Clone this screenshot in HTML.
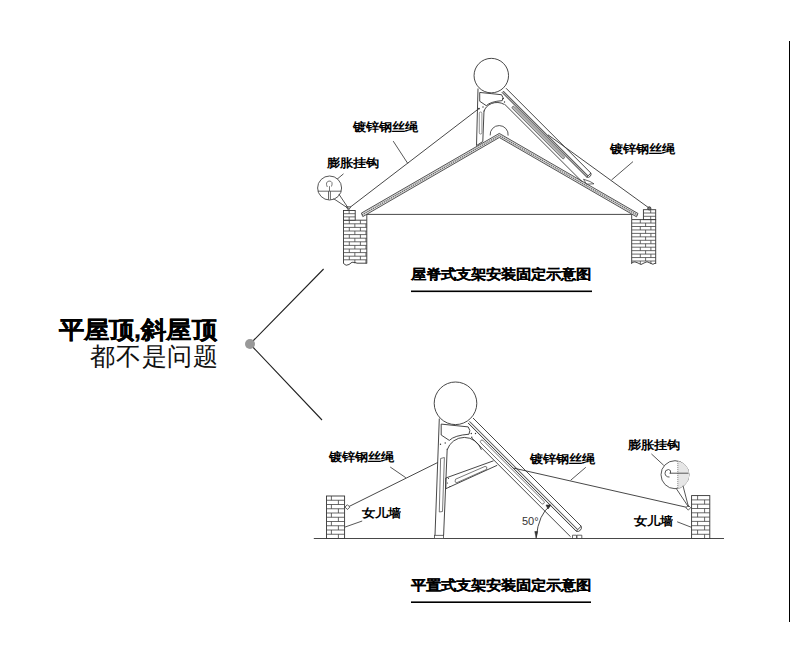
<!DOCTYPE html>
<html><head><meta charset="utf-8">
<style>
html,body{margin:0;padding:0;background:#fff;width:790px;height:650px;overflow:hidden;position:relative;font-family:"Liberation Sans",sans-serif;}
.t{position:absolute;white-space:nowrap;line-height:1;color:#000;}
.b{font-weight:700;transform:scaleY(0.91);transform-origin:50% 50%;}
.c{-webkit-text-stroke:0.12px #000;}
.l{font-weight:300;color:#111;}
svg{position:absolute;left:0;top:0;}
</style></head><body>
<svg width="790" height="650" viewBox="0 0 790 650">
<rect x="789" y="41" width="1" height="581" fill="#000"/>
<path d="M250 344L323.6 269M250 344L322 420" stroke="#222" stroke-width="1.1" fill="none"/>
<circle cx="250" cy="344" r="5" fill="#999"/>
<g><path d="M366.8 220.2V214.4H631.7V219.6" fill="none" stroke="#333" stroke-width="0.9"/>
<path d="M343.5 263.5V220.2H366.8V263.5" fill="#fff" stroke="#333" stroke-width="0.9"/>
<path d="M343.5 223.8H366.8M343.5 227.4H366.8M343.5 231H366.8M343.5 234.6H366.8M343.5 238.2H366.8M343.5 241.8H366.8M343.5 245.4H366.8M343.5 249H366.8M343.5 252.6H366.8M343.5 256.2H366.8M343.5 259.8H366.8M349.3 220.2V223.8M360.4 220.2V223.8M354.85 223.8V227.4M365.95 223.8V227.4M349.3 227.4V231M360.4 227.4V231M354.85 231V234.6M365.95 231V234.6M349.3 234.6V238.2M360.4 234.6V238.2M354.85 238.2V241.8M365.95 238.2V241.8M349.3 241.8V245.4M360.4 241.8V245.4M354.85 245.4V249M365.95 245.4V249M349.3 249V252.6M360.4 249V252.6M354.85 252.6V256.2M365.95 252.6V256.2M349.3 256.2V259.8M360.4 256.2V259.8M354.85 259.8V263.4M365.95 259.8V263.4" stroke="#444" stroke-width="0.8" fill="none"/>
<path d="M343.5 263.5Q346 266.5 349 264.5Q352 261 355 262.5Q357 263.5 359 263.2H366.8" fill="none" stroke="#333" stroke-width="0.9"/>
<rect x="343.5" y="210.5" width="11.7" height="9.7" fill="#fff" stroke="#333" stroke-width="0.9"/>
<path d="M343.5 213.7H355.2M343.5 216.9H355.2M349.15 210.5V213.7M349.15 216.9V220.1" stroke="#444" stroke-width="0.8" fill="none"/>
<path d="M631.7 264V219.6H655.7V264" fill="#fff" stroke="#333" stroke-width="0.9"/>
<path d="M631.7 223.05H655.7M631.7 226.5H655.7M631.7 229.95H655.7M631.7 233.4H655.7M631.7 236.85H655.7M631.7 240.3H655.7M631.7 243.75H655.7M631.7 247.2H655.7M631.7 250.65H655.7M631.7 254.1H655.7M631.7 257.55H655.7M631.7 261H655.7M640.3 219.6V223.05M650.9 219.6V223.05M645.6 223.05V226.5M640.3 226.5V229.95M650.9 226.5V229.95M645.6 229.95V233.4M640.3 233.4V236.85M650.9 233.4V236.85M645.6 236.85V240.3M640.3 240.3V243.75M650.9 240.3V243.75M645.6 243.75V247.2M640.3 247.2V250.65M650.9 247.2V250.65M645.6 250.65V254.1M640.3 254.1V257.55M650.9 254.1V257.55M645.6 257.55V261M640.3 261V264M650.9 261V264" stroke="#444" stroke-width="0.8" fill="none"/>
<path d="M631.7 262.5Q635 261 638 263Q641 266 644 263Q647 260.5 650 263Q653 265.5 655.7 263" fill="none" stroke="#333" stroke-width="0.9"/>
<rect x="643.4" y="209.7" width="12.3" height="9.9" fill="#fff" stroke="#333" stroke-width="0.9"/>
<path d="M643.4 213H655.7M643.4 216.3H655.7M650.7 209.7V213M650.7 216.3V219.6" stroke="#444" stroke-width="0.8" fill="none"/>
<path d="M361.4 213.1L499.3 133.4L638 213.5L636.5 216.8L499.3 137.5L362.8 216.6Z" fill="#ddd" stroke="#444" stroke-width="0.9"/>
<path d="M362 214.9L499.3 135.5L637.2 215.1" fill="none" stroke="#666" stroke-width="1.3" stroke-dasharray="1.2 0.9"/>
<path d="M490.2 135.4A9 9 0 1 1 508.1 135.6" fill="none" stroke="#444" stroke-width="0.9"/>
<circle cx="491.3" cy="75.6" r="17.25" fill="#fff" stroke="#333" stroke-width="0.9"/>
<path d="M479.72 92.45L479.72 101.28L486.28 105.65Q490.49 101.52 502.24 100.63Q503.94 97.55 501.59 94.72Q492.92 93.82 479.72 92.45Z" fill="none" stroke="#333" stroke-width="0.9"/>
<path d="M484 111.5C485.5 104.5 496 99.5 504.5 104.5" fill="none" stroke="#333" stroke-width="0.9"/>
<g fill="#333"><circle cx="503.3" cy="98.5" r="0.7"/><circle cx="504.5" cy="102" r="0.7"/><circle cx="483" cy="107" r="0.7"/><circle cx="479" cy="108.6" r="0.9"/></g>
<path d="M478 88.5L476.5 145.6M484 110.5L482.8 141.5" fill="none" stroke="#333" stroke-width="0.9"/>
<rect x="479.3" y="112" width="2.6" height="22" rx="1.2" fill="none" stroke="#666" stroke-width="0.7"/>
<path d="M476.5 145.6L482.8 141.5" fill="none" stroke="#333" stroke-width="0.9"/>
<path d="M503.22 90.98 L588.07 175.84 L586.74 177.17 L501.88 92.32Z" fill="#b0b0b0" stroke="none"/>
<path d="M506 88.2 L590.85 173.05" fill="none" stroke="#333" stroke-width="0.9"/>
<path d="M503.22 90.98 L588.07 175.84" fill="none" stroke="#333" stroke-width="0.9"/>
<path d="M501.88 92.32 L586.74 177.17" fill="none" stroke="#333" stroke-width="0.9"/>
<path d="M504.84 104.44 L582.16 181.75" fill="none" stroke="#333" stroke-width="0.9"/>
<path d="M514.23 106.64L564.1 156.5A1.31 1.31 0 0 1 562.24 158.36L512.38 108.49A1.31 1.31 0 0 1 514.23 106.64Z" fill="#b8b8b8" stroke="#555" stroke-width="0.8"/>
<path d="M590.85 173.05A3.2 3.2 0 0 1 586.74 177.17Z" fill="#fff" stroke="#333" stroke-width="0.9"/>
<path d="M583.5 179.2L590 181.5L594 183.8L586.5 184.2Z" fill="none" stroke="#444" stroke-width="0.8"/>
<path d="M348.5 208.5L479 108.5M548 134.8L649.3 208.2" fill="none" stroke="#333" stroke-width="0.9"/>
<path d="M346.3 206.8H350.7L348.5 210.3Z" fill="#fff" stroke="#333" stroke-width="0.8"/>
<circle cx="649.3" cy="208.4" r="1.6" fill="#777" stroke="#333" stroke-width="0.9"/>
<path d="M393.2 141.1L407.8 163.5M332 183.5L343.5 173.8M633 161.6L611.5 180" fill="none" stroke="#444" stroke-width="0.9"/>
<circle cx="329.6" cy="188" r="12" fill="#fff" stroke="#444" stroke-width="0.9"/>
<path d="M317.8 191.2H341.4M328.5 191.2V199.6M330.4 191.2V199.6" fill="none" stroke="#444" stroke-width="0.8"/>
<path d="M329.5 191V186.2M327.3 187Q325 182 329 181Q333.5 181 331.5 186.5" fill="none" stroke="#555" stroke-width="0.8"/>
<path d="M333.5 198.6L348.5 208.5L338.8 194" fill="none" stroke="#444" stroke-width="0.9"/></g>
<g><path d="M313.8 538.5H724" fill="none" stroke="#333" stroke-width="0.9"/>
<rect x="326.5" y="496" width="18.1" height="42.5" fill="#fff" stroke="#333" stroke-width="0.9"/>
<path d="M326.5 500.25H344.6M326.5 504.5H344.6M326.5 508.75H344.6M326.5 513H344.6M326.5 517.25H344.6M326.5 521.5H344.6M326.5 525.75H344.6M326.5 530H344.6M326.5 534.25H344.6M331.4 496V500.25M338.4 500.25V504.5M331.4 504.5V508.75M338.4 508.75V513M331.4 513V517.25M338.4 517.25V521.5M331.4 521.5V525.75M338.4 525.75V530M331.4 530V534.25M338.4 534.25V538.5" stroke="#444" stroke-width="0.8" fill="none"/>
<rect x="691.6" y="495.6" width="18.2" height="42.9" fill="#fff" stroke="#333" stroke-width="0.9"/>
<path d="M691.6 499.9H709.8M691.6 504.2H709.8M691.6 508.5H709.8M691.6 512.8H709.8M691.6 517.1H709.8M691.6 521.4H709.8M691.6 525.7H709.8M691.6 530H709.8M691.6 534.3H709.8M697.6 495.6V499.9M704.6 499.9V504.2M697.6 504.2V508.5M704.6 508.5V512.8M697.6 512.8V517.1M704.6 517.1V521.4M697.6 521.4V525.7M704.6 525.7V530M697.6 530V534.3M704.6 534.3V538.5" stroke="#444" stroke-width="0.8" fill="none"/>
<path d="M439.3 418.5L435 535.3M447.2 448.8L443.6 535.3" fill="none" stroke="#333" stroke-width="0.9"/>
<path d="M440.6 458.5L444.4 457.5L442.5 511.5L439.3 512Z" fill="none" stroke="#555" stroke-width="0.8"/>
<rect x="434.4" y="535.3" width="9.2" height="3.2" fill="#fff" stroke="#444" stroke-width="0.8"/>
<path d="M445.8 478L493.5 460.8M445.8 488.7L497.2 465.3M445.8 478V488.7" fill="none" stroke="#333" stroke-width="0.9"/>
<path d="M455.6 479.2L485 466.4Q487.8 466.2 486.6 469.4L457 482.6Q454.2 483.2 455.6 479.2Z" fill="none" stroke="#555" stroke-width="0.8"/>
<circle cx="455.5" cy="403.3" r="21.3" fill="#fff" stroke="#333" stroke-width="0.9"/>
<path d="M441.2 424.1L441.2 435L449.3 440.4Q454.5 435.3 469 434.2Q471.1 430.4 468.2 426.9Q457.5 425.8 441.2 424.1Z" fill="none" stroke="#333" stroke-width="0.9"/>
<path d="M447.2 449.8A18 18 0 0 1 481.4 449.8" fill="none" stroke="#333" stroke-width="0.9"/>
<g fill="#333"><circle cx="471.3" cy="433.5" r="0.7"/><circle cx="475.5" cy="433.5" r="0.7"/><circle cx="471.8" cy="437.3" r="0.7"/><circle cx="445.2" cy="443" r="0.7"/><circle cx="440.5" cy="444.2" r="0.7"/><circle cx="448.5" cy="478.5" r="0.6"/><circle cx="447.5" cy="483" r="0.6"/><circle cx="450" cy="486.5" r="0.6"/></g>
<path d="M469.61 421.39 L577.79 529.58 L576.17 531.21 L467.98 423.02Z" fill="#e0e0e0" stroke="none"/>
<path d="M473 418 L581.19 526.19" fill="none" stroke="#333" stroke-width="0.9"/>
<path d="M469.61 421.39 L577.79 529.58" fill="none" stroke="#333" stroke-width="0.9"/>
<path d="M467.98 423.02 L576.17 531.21" fill="none" stroke="#333" stroke-width="0.9"/>
<path d="M471.59 437.8 L570.58 536.79" fill="none" stroke="#333" stroke-width="0.9"/>
<path d="M483.04 440.49L543.85 501.3A1.6 1.6 0 0 1 541.59 503.56L480.78 442.75A1.6 1.6 0 0 1 483.04 440.49Z" fill="#fff" stroke="#555" stroke-width="0.8"/>
<path d="M581.19 526.19A3.9 3.9 0 0 1 576.17 531.21Z" fill="#fff" stroke="#333" stroke-width="0.9"/>
<path d="M572.5 538.5V535.2H576.5V538.5M577 538.5V535.2H581.8V538.5" fill="none" stroke="#444" stroke-width="0.8"/>
<path d="M349 506.5L437.7 462.5M513.7 468.1L688.3 507.7" fill="none" stroke="#333" stroke-width="0.9"/>
<path d="M347.4 504.7L349.8 507.1L347.4 509.5L345 507.1Z" fill="#fff" stroke="#333" stroke-width="0.8"/>
<path d="M688.3 505.3L690.7 507.7L688.3 510.1L685.9 507.7Z" fill="#fff" stroke="#333" stroke-width="0.8"/>
<path d="M390.2 467L405.8 477.7M344.9 527.1L362.2 521M585.8 467.3L570.6 480.3M651.4 453.9L663.8 465.4M677.2 521.8L691.4 527.3" fill="none" stroke="#444" stroke-width="0.9"/>
<circle cx="675" cy="474.7" r="14" fill="#fff" stroke="#444" stroke-width="0.9"/>
<path d="M677.8 460.9A14 14 0 0 1 677.8 488.4Z" fill="#e6e6e6" stroke="none"/>
<path d="M677.8 460.9V488.5" fill="none" stroke="#777" stroke-width="0.9" stroke-dasharray="1 1"/>
<path d="M669.5 473.2H688.6" fill="none" stroke="#444" stroke-width="0.9"/>
<path d="M670.5 473.4Q671.5 469.8 668.5 469.5Q664.8 469.8 665 473.3Q665.5 477.2 669.5 477" fill="none" stroke="#444" stroke-width="0.9"/>
<path d="M676.3 488.6L688.5 507L683 485.8" fill="none" stroke="#444" stroke-width="0.9"/>
<path d="M536.2 537.5Q538.5 514 550.5 505.5" fill="none" stroke="#333" stroke-width="0.9"/>
<path d="M534.8 531.5L536.2 538L537.6 531.5ZM546 505L551 505L548 509Z" fill="#333" stroke="#333" stroke-width="0.6"/></g>
<rect x="411" y="290.5" width="181" height="1.6" fill="#000"/>
<rect x="411" y="601.4" width="180" height="1.6" fill="#000"/>
</svg>


<div class="t b" style="left:58.5px;top:317px;font-size:25px;letter-spacing:0.2px;-webkit-text-stroke:0.35px #000;transform:scaleY(0.95);">平屋顶,斜屋顶</div>
<div class="t l" style="left:90px;top:344px;font-size:25px;letter-spacing:0.8px;">都不是问题</div>
<div class="t b" style="left:353px;top:119.5px;font-size:13px;">镀锌钢丝绳</div>
<div class="t b" style="left:327px;top:155.5px;font-size:13px;">膨胀挂钩</div>
<div class="t b" style="left:610px;top:141.5px;font-size:13px;">镀锌钢丝绳</div>
<div class="t b c" style="left:411px;top:265.8px;font-size:15px;">屋脊式支架安装固定示意图</div>
<div class="t b" style="left:329px;top:449.5px;font-size:13px;">镀锌钢丝绳</div>
<div class="t b" style="left:362px;top:506px;font-size:13px;">女儿墙</div>
<div class="t b" style="left:530px;top:452px;font-size:13px;">镀锌钢丝绳</div>
<div class="t b" style="left:628px;top:437.5px;font-size:13px;">膨胀挂钩</div>
<div class="t b" style="left:634px;top:513.5px;font-size:13px;">女儿墙</div>
<div class="t" style="left:522px;top:516px;font-size:11px;color:#333;">50°</div>
<div class="t b c" style="left:411px;top:577px;font-size:15px;">平置式支架安装固定示意图</div>

</body></html>
